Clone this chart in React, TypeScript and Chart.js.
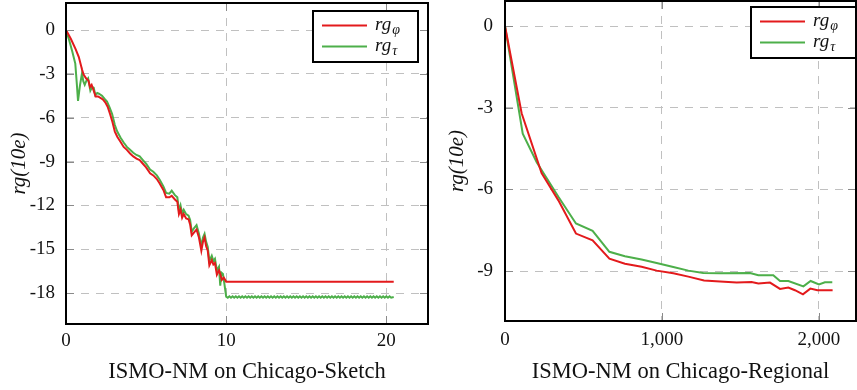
import React, { useEffect, useRef } from 'react';
import { Chart, registerables } from 'chart.js';

Chart.register(...registerables);

type Pt = [number, number];

const SERIF = '"Liberation Serif", "Times New Roman", serif';
const RED = '#e31a1c';
const GREEN = '#4daf4a';

const legendLabels = ['rgφ', 'rgτ'];
const yAxisTitle = 'rg(10e)';
const sketchTitle = 'ISMO-NM on Chicago-Sketch';
const regionalTitle = 'ISMO-NM on Chicago-Regional';

const sketchXTicks = [0, 10, 20];
const sketchYTicks = [0, -3, -6, -9, -12, -15, -18];
const regionalXTicks = [0, 1000, 2000];
const regionalYTicks = [0, -3, -6, -9];

// Chicago-Sketch, rg_phi (red)
const sketchPhi: Pt[] = [
  [0, 0], [0.3, -0.6], [0.6, -1.3], [0.8, -1.85], [1.0, -2.7], [1.1, -3.05], [1.25, -3.3], [1.4, -3.45],
  [1.5, -3.9], [1.6, -3.75], [1.73, -4.15], [1.85, -4.55], [2.0, -4.55], [2.15, -4.65], [2.3, -4.75],
  [2.45, -4.95], [2.6, -5.25], [2.75, -5.75], [2.9, -6.3], [3.05, -6.95], [3.2, -7.3], [3.4, -7.65],
  [3.6, -8.0], [3.8, -8.2], [4.0, -8.45], [4.2, -8.65], [4.4, -8.8], [4.6, -8.9], [4.8, -9.15],
  [5.0, -9.4], [5.25, -9.8], [5.45, -9.95], [5.67, -10.2], [5.85, -10.5], [6.08, -10.95], [6.25, -11.45],
  [6.45, -11.45], [6.6, -11.35], [6.8, -11.6], [6.95, -11.75], [7.05, -12.6], [7.15, -12.3], [7.25, -12.85],
  [7.35, -12.6], [7.5, -12.9], [7.65, -12.95], [7.75, -13.3], [7.85, -14.05], [8.0, -13.85], [8.15, -13.65],
  [8.3, -14.2], [8.45, -15.1], [8.55, -14.5], [8.65, -14.2], [8.75, -14.8], [8.85, -15.1], [8.95, -16.1],
  [9.1, -15.75], [9.2, -16.05], [9.3, -15.95], [9.42, -16.75], [9.55, -16.45], [9.63, -16.7], [9.73, -17.1],
  [9.85, -16.95], [10, -17.22], [20.46, -17.22],
];

// Chicago-Sketch, rg_tau (green)
const sketchTau: Pt[] = [
  [0, 0], [0.2, -0.7], [0.4, -1.5], [0.58, -2.3], [0.67, -3.6], [0.75, -4.85], [0.87, -3.8], [1.0, -2.95],
  [1.08, -3.5], [1.17, -3.75], [1.3, -3.4], [1.38, -3.3], [1.52, -4.15], [1.63, -3.9], [1.73, -3.95],
  [1.83, -4.45], [1.95, -4.3], [2.05, -4.35], [2.25, -4.5], [2.4, -4.7], [2.56, -4.9], [2.72, -5.3],
  [2.88, -5.75], [3.05, -6.5], [3.2, -6.95], [3.4, -7.35], [3.6, -7.7], [3.8, -8.0], [4.0, -8.2],
  [4.2, -8.4], [4.4, -8.55], [4.6, -8.65], [4.8, -8.9], [5.0, -9.15], [5.25, -9.55], [5.45, -9.7],
  [5.67, -9.95], [5.85, -10.25], [6.08, -10.7], [6.25, -11.15], [6.45, -11.2], [6.6, -11.0], [6.8, -11.3],
  [6.95, -11.45], [7.05, -12.35], [7.15, -12.0], [7.25, -12.55], [7.35, -12.3], [7.5, -12.6], [7.65, -12.7],
  [7.75, -13.0], [7.85, -13.8], [8.0, -13.55], [8.15, -13.35], [8.3, -13.95], [8.45, -14.8], [8.55, -14.2],
  [8.65, -13.95], [8.75, -14.5], [8.85, -14.85], [8.95, -15.8], [9.1, -15.45], [9.2, -15.8], [9.3, -15.65],
  [9.42, -16.45], [9.55, -16.2], [9.63, -17.5], [9.7, -16.6], [9.8, -16.7], [9.88, -17.3], [10, -18.25],
  [10.1, -18.32], [10.2, -18.22], [10.3, -18.32], [10.4, -18.22], [10.5, -18.32], [10.6, -18.22], [10.7, -18.32], [10.8, -18.22], [10.9, -18.32], [11.0, -18.22],
  [11.1, -18.32], [11.2, -18.22], [11.3, -18.32], [11.4, -18.22], [11.5, -18.32], [11.6, -18.22], [11.7, -18.32], [11.8, -18.22], [11.9, -18.32], [12.0, -18.22],
  [12.1, -18.32], [12.2, -18.22], [12.3, -18.32], [12.4, -18.22], [12.5, -18.32], [12.6, -18.22], [12.7, -18.32], [12.8, -18.22], [12.9, -18.32], [13.0, -18.22],
  [13.1, -18.32], [13.2, -18.22], [13.3, -18.32], [13.4, -18.22], [13.5, -18.32], [13.6, -18.22], [13.7, -18.32], [13.8, -18.22], [13.9, -18.32], [14.0, -18.22],
  [14.1, -18.32], [14.2, -18.22], [14.3, -18.32], [14.4, -18.22], [14.5, -18.32], [14.6, -18.22], [14.7, -18.32], [14.8, -18.22], [14.9, -18.32], [15.0, -18.22],
  [15.1, -18.32], [15.2, -18.22], [15.3, -18.32], [15.4, -18.22], [15.5, -18.32], [15.6, -18.22], [15.7, -18.32], [15.8, -18.22], [15.9, -18.32], [16.0, -18.22],
  [16.1, -18.32], [16.2, -18.22], [16.3, -18.32], [16.4, -18.22], [16.5, -18.32], [16.6, -18.22], [16.7, -18.32], [16.8, -18.22], [16.9, -18.32], [17.0, -18.22],
  [17.1, -18.32], [17.2, -18.22], [17.3, -18.32], [17.4, -18.22], [17.5, -18.32], [17.6, -18.22], [17.7, -18.32], [17.8, -18.22], [17.9, -18.32], [18.0, -18.22],
  [18.1, -18.32], [18.2, -18.22], [18.3, -18.32], [18.4, -18.22], [18.5, -18.32], [18.6, -18.22], [18.7, -18.32], [18.8, -18.22], [18.9, -18.32], [19.0, -18.22],
  [19.1, -18.32], [19.2, -18.22], [19.3, -18.32], [19.4, -18.22], [19.5, -18.32], [19.6, -18.22], [19.7, -18.32], [19.8, -18.22], [19.9, -18.32], [20.0, -18.22],
  [20.1, -18.32], [20.2, -18.22], [20.3, -18.32], [20.46, -18.27],
];

// Chicago-Regional, rg_phi (red)
const regionalPhi: Pt[] = [
  [0, 0], [106, -3.2], [233, -5.4], [340, -6.4], [452, -7.62], [558, -7.87], [665, -8.54], [764, -8.73],
  [870, -8.84], [966, -8.98], [1072, -9.08], [1168, -9.2], [1268, -9.34], [1370, -9.38], [1476, -9.42],
  [1571, -9.4], [1614, -9.45], [1688, -9.42], [1752, -9.65], [1805, -9.6], [1847, -9.7], [1898, -9.85],
  [1945, -9.64], [1990, -9.7], [2087, -9.7],
];

// Chicago-Regional, rg_tau (green)
const regionalTau: Pt[] = [
  [0, 0], [113, -3.95], [202, -5.0], [340, -6.27], [452, -7.25], [558, -7.52], [665, -8.29], [764, -8.45],
  [870, -8.57], [966, -8.7], [1072, -8.85], [1168, -8.98], [1263, -9.07], [1370, -9.08], [1561, -9.07],
  [1614, -9.15], [1709, -9.15], [1752, -9.36], [1805, -9.36], [1901, -9.56], [1947, -9.36], [2000, -9.49],
  [2038, -9.41], [2085, -9.41],
];

const framePlugin = {
  id: 'rgFrame',
  afterDraw(chart: any, _args: any, opts: any) {
    const { ctx, chartArea: a } = chart;
    const xs = chart.scales.x;
    const ys = chart.scales.y;
    ctx.save();
    // inner tick marks
    ctx.strokeStyle = '#8a8a8a';
    ctx.lineWidth = 1;
    const tl = 8;
    ctx.beginPath();
    xs.ticks.forEach((t: any) => {
      const p = Math.round(xs.getPixelForValue(t.value)) + 0.5;
      ctx.moveTo(p, a.bottom);
      ctx.lineTo(p, a.bottom - tl);
      ctx.moveTo(p, a.top);
      ctx.lineTo(p, a.top + tl);
    });
    ys.ticks.forEach((t: any) => {
      const p = Math.round(ys.getPixelForValue(t.value)) + 0.5;
      ctx.moveTo(a.left, p);
      ctx.lineTo(a.left + tl, p);
      ctx.moveTo(a.right, p);
      ctx.lineTo(a.right - tl, p);
    });
    ctx.stroke();
    // frame
    ctx.strokeStyle = '#000';
    ctx.lineWidth = 2;
    ctx.strokeRect(a.left, a.top, a.right - a.left, a.bottom - a.top);
    // legend
    const w = 105;
    const h = 51;
    const bx = a.right - opts.right - w;
    const by = a.top + opts.top;
    ctx.fillStyle = '#fff';
    ctx.fillRect(bx, by, w, h);
    ctx.strokeStyle = '#000';
    ctx.lineWidth = 2;
    ctx.strokeRect(bx, by, w, h);
    chart.data.datasets.forEach((ds: any, i: number) => {
      const ly = by + 14.5 + i * 21;
      ctx.strokeStyle = ds.borderColor;
      ctx.lineWidth = 2;
      ctx.beginPath();
      ctx.moveTo(bx + 9, ly);
      ctx.lineTo(bx + 54, ly);
      ctx.stroke();
      ctx.fillStyle = '#111';
      ctx.textAlign = 'left';
      ctx.textBaseline = 'alphabetic';
      const main = ds.label.slice(0, 2);
      const sub = ds.label.slice(2);
      ctx.font = `italic 19px ${SERIF}`;
      ctx.fillText(main, bx + 62, ly + 4);
      const mw = ctx.measureText(main).width;
      ctx.font = `italic 14px ${SERIF}`;
      ctx.fillText(sub, bx + 63 + mw, ly + 8);
    });
    ctx.restore();
  },
};

type PanelProps = {
  left: number;
  width: number;
  phi: Pt[];
  tau: Pt[];
  xMax: number;
  yMin: number;
  yMax: number;
  xTicks: number[];
  yTicks: number[];
  xTitle: string;
  padLeft: number;
  padRight: number;
  padTop: number;
  yWidth: number;
  xHeight: number;
  xTickPad: number;
  yTickPad: number;
  legendRight: number;
  legendTop: number;
  xFmt: (v: number) => string;
};

function Panel(p: PanelProps) {
  const ref = useRef<HTMLCanvasElement>(null);
  useEffect(() => {
    const tickFont = { family: SERIF, size: 19 };
    const chart = new Chart(ref.current as HTMLCanvasElement, {
      type: 'line',
      data: {
        datasets: [
          {
            label: legendLabels[0],
            data: p.phi.map(([x, y]) => ({ x, y })),
            borderColor: RED,
            borderWidth: 2,
            pointRadius: 0,
            tension: 0,
            fill: false,
          },
          {
            label: legendLabels[1],
            data: p.tau.map(([x, y]) => ({ x, y })),
            borderColor: GREEN,
            borderWidth: 2,
            pointRadius: 0,
            tension: 0,
            fill: false,
          },
        ],
      },
      options: {
        animation: false,
        responsive: false,
        maintainAspectRatio: false,
        layout: { padding: { left: p.padLeft, right: p.padRight, top: p.padTop, bottom: 0 } },
        plugins: {
          legend: { display: false },
          tooltip: { enabled: false },
          rgFrame: { right: p.legendRight, top: p.legendTop },
        } as any,
        scales: {
          x: {
            type: 'linear',
            min: 0,
            max: p.xMax,
            afterBuildTicks: (s: any) => {
              s.ticks = p.xTicks.map((v) => ({ value: v }));
            },
            afterFit: (s: any) => {
              s.height = p.xHeight;
              s.paddingLeft = 0;
              s.paddingRight = 0;
            },
            ticks: {
              font: tickFont,
              color: '#111',
              padding: p.xTickPad,
              maxRotation: 0,
              autoSkip: false,
              callback: (v: any) => p.xFmt(Number(v)),
            },
            grid: { color: '#c0c0c0', lineWidth: 1, drawTicks: false },
            border: { display: false, dash: [8, 7] },
            title: {
              display: true,
              text: p.xTitle,
              font: { family: SERIF, size: 22.5 },
              color: '#111',
              padding: { top: 0, bottom: 4 },
            },
          },
          y: {
            type: 'linear',
            min: p.yMin,
            max: p.yMax,
            afterBuildTicks: (s: any) => {
              s.ticks = p.yTicks.map((v) => ({ value: v }));
            },
            afterFit: (s: any) => {
              s.width = p.yWidth;
              s.paddingTop = 0;
              s.paddingBottom = 0;
            },
            ticks: {
              font: tickFont,
              color: '#111',
              padding: p.yTickPad,
              autoSkip: false,
              callback: (v: any) => String(v),
            },
            grid: { color: '#c0c0c0', lineWidth: 1, drawTicks: false },
            border: { display: false, dash: [8, 7] },
            title: {
              display: true,
              text: yAxisTitle,
              font: { family: SERIF, size: 21, style: 'italic' },
              color: '#111',
              padding: { top: 0, bottom: 0 },
            },
          },
        },
      } as any,
      plugins: [framePlugin],
    });
    return () => chart.destroy();
  }, []);
  return (
    <div style={{ position: 'absolute', left: p.left, top: 0, width: p.width, height: 390 }}>
      <canvas ref={ref} width={p.width} height={390} style={{ width: p.width, height: 390, display: 'block' }} />
    </div>
  );
}

export default function App() {
  return (
    <div
      style={{
        position: 'fixed',
        left: 0,
        top: 0,
        width: 857,
        height: 390,
        overflow: 'hidden',
        background: '#fff',
      }}
    >
      <Panel
        left={0}
        width={430}
        phi={sketchPhi}
        tau={sketchTau}
        xMax={22.6}
        yMin={-20.12}
        yMax={1.85}
        xTicks={sketchXTicks}
        yTicks={sketchYTicks}
        xTitle={sketchTitle}
        padLeft={7}
        padRight={2}
        padTop={3}
        yWidth={59}
        xHeight={66}
        xTickPad={6}
        yTickPad={11}
        legendRight={10}
        legendTop={8}
        xFmt={(v) => String(v)}
      />
      <Panel
        left={430}
        width={427}
        phi={regionalPhi}
        tau={regionalTau}
        xMax={2236}
        yMin={-10.83}
        yMax={0.92}
        xTicks={regionalXTicks}
        yTicks={regionalYTicks}
        xTitle={regionalTitle}
        padLeft={15}
        padRight={1}
        padTop={1}
        yWidth={60}
        xHeight={69}
        xTickPad={8}
        yTickPad={12}
        legendRight={0}
        legendTop={6}
        xFmt={(v) => v.toLocaleString('en-US')}
      />
    </div>
  );
}
